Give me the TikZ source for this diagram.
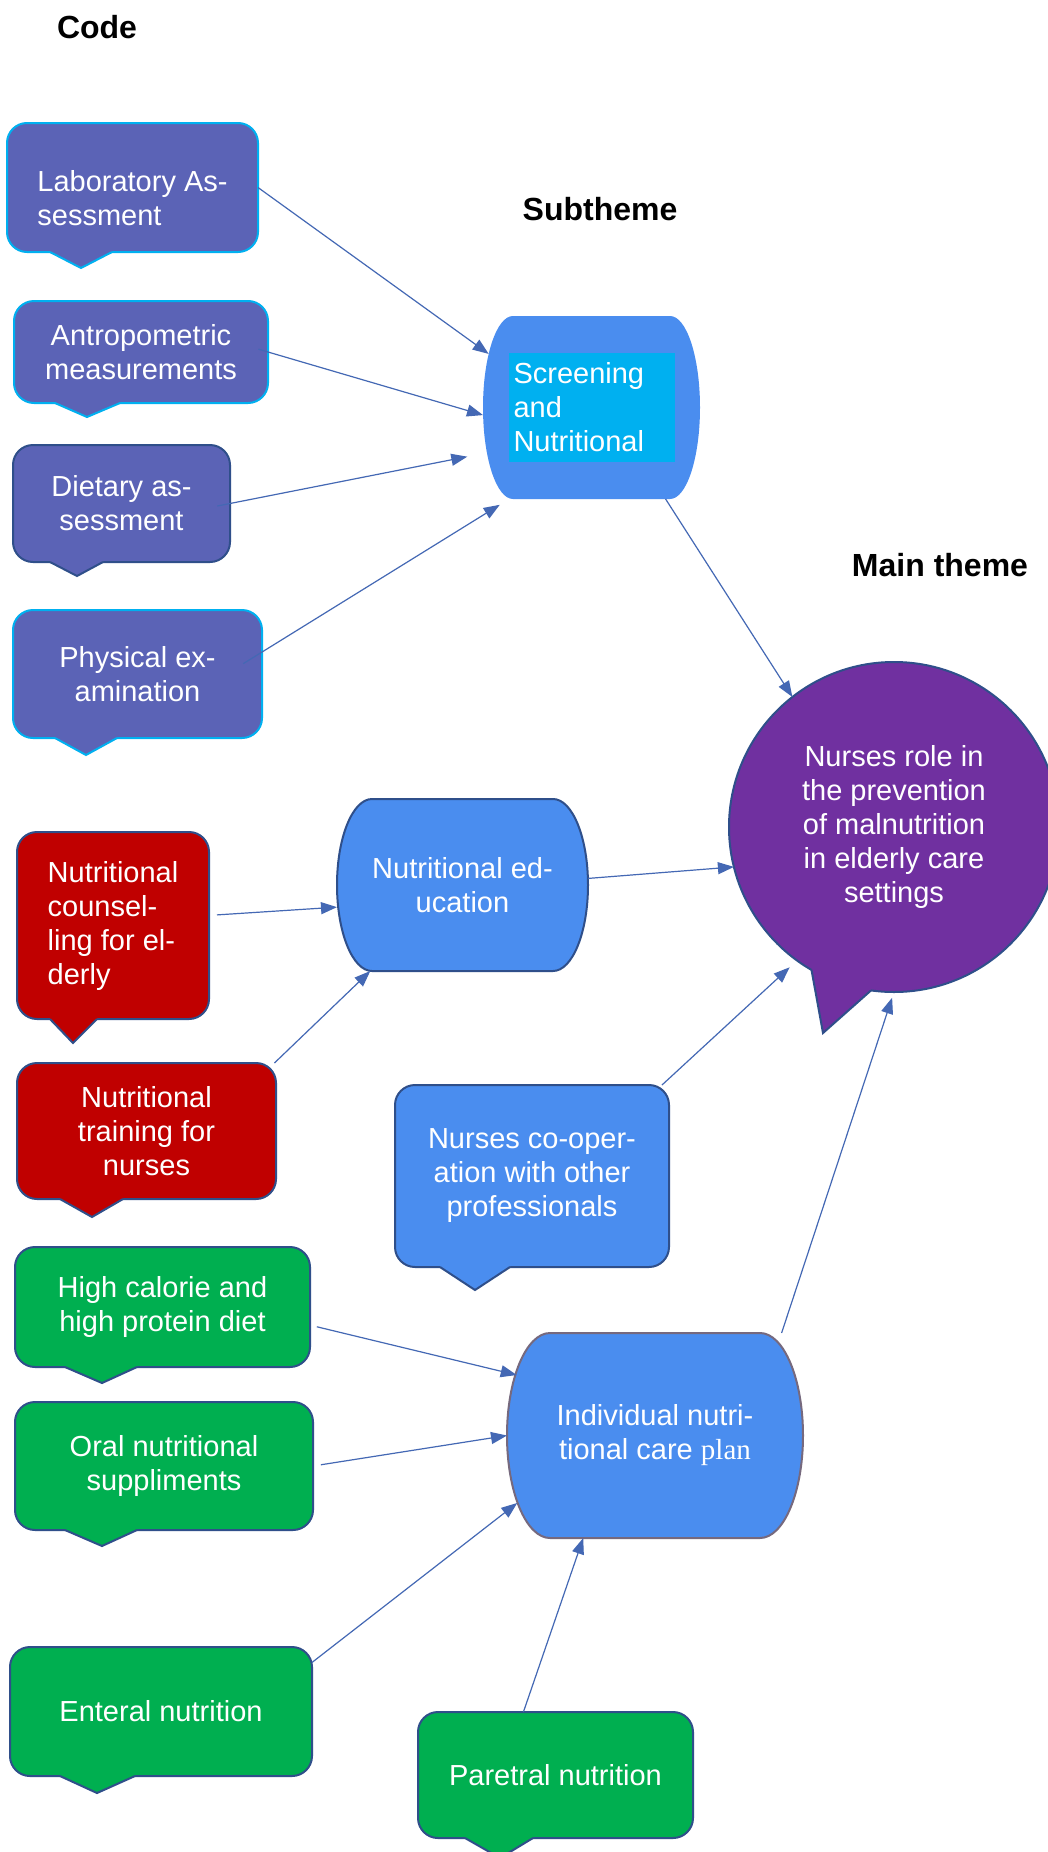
\documentclass[tikz,border=0pt]{standalone}
\usepackage{fontspec}
\setmainfont{Liberation Sans}
\newfontfamily\planfont{Liberation Serif}
\usepackage{tikz}
\usetikzlibrary{arrows.meta, backgrounds}

\definecolor{codeblue}{HTML}{5B63B6}
\definecolor{codered}{HTML}{C00000}
\definecolor{codegreen}{HTML}{00AF50}
\definecolor{themeblue}{HTML}{4A8DEF}
\definecolor{markcyan}{HTML}{00B0F0}
\definecolor{mainpurple}{HTML}{7030A0}
\definecolor{linecyan}{HTML}{00B0F0}
\definecolor{linenavy}{HTML}{2F4F8A}
\definecolor{linegrey}{HTML}{76697E}
\definecolor{arrowblue}{HTML}{4468B4}

% Spitze unter einer Sprechblase: Stil, Knoten, links, rechts, Spitze x, Tiefe
\newcommand{\calltail}[6]{%
  \path[#1, draw=none, sharp corners] ([shift={(#3,-2)}]#2.south west) -- ([shift={(#3,0)}]#2.south west)
    -- ([shift={(#5,#6)}]#2.south west) -- ([shift={(#4,0)}]#2.south west) -- ([shift={(#4,-2)}]#2.south west) -- cycle;
  \path[#1, fill=none, sharp corners] ([shift={(#3,0)}]#2.south west) -- ([shift={(#5,#6)}]#2.south west)
    -- ([shift={(#4,0)}]#2.south west);}

% Form mit gewoelbten Seiten: Stil, Knoten, Woelbung, halbe Hoehe
\newcommand{\roundsides}[4]{%
  \path[#1] ([xshift=#3pt]#2.north west) -- ([xshift=-#3pt]#2.north east)
    arc[start angle=90, end angle=-90, x radius=#3pt, y radius=#4pt]
    -- ([xshift=#3pt]#2.south west)
    arc[start angle=270, end angle=90, x radius=#3pt, y radius=#4pt] -- cycle;}

\begin{document}
\begin{tikzpicture}[
    x=1pt, y=-1pt,
    every node/.style={font=\fontsize{29}{34}\selectfont},
    heading/.style={font=\fontsize{32}{38}\selectfont\bfseries},
    callout/.style={rectangle, rounded corners=20pt, line width=2pt, outer sep=0pt, inner sep=0pt, text=white, align=center},
    codebox/.style={callout, fill=codeblue, draw=linecyan},
    codeboxdark/.style={callout, fill=codeblue, draw=linenavy},
    redbox/.style={callout, fill=codered, draw=linenavy},
    greenbox/.style={callout, fill=codegreen, draw=linenavy},
    bluebox/.style={callout, fill=themeblue, draw=linenavy},
    sidenode/.style={rectangle, outer sep=0pt, inner sep=0pt, text=white, align=center},
    conn/.style={draw=arrowblue, line width=1.2pt, -{Triangle[length=16pt,width=12pt]}}
]
\useasboundingbox (0,0) rectangle (1048,1852);

% Ueberschriften
\node[heading] (code) at (97,27) {Code};
\node[heading] (sub) at (600,209) {Subtheme};
\node[heading] (mth) at (940,565) {Main theme};

% Codes
\node[codebox, minimum width=251pt, minimum height=129pt, align=none] (lab) at (132.5,187.5)
    {\raisebox{-14pt}[\height][\depth]{\begin{tabular}{@{}l@{}}Laboratory As-\\sessment\end{tabular}}};
\node[codebox, minimum width=254pt, minimum height=102pt] (antro) at (141,352) {Antropometric\\measurements};
\node[codeboxdark, minimum width=217pt, minimum height=117pt] (diet) at (121.5,503.5) {Dietary as-\\sessment};
\node[codebox, minimum width=249pt, minimum height=128pt] (phys) at (137.5,674) {Physical ex-\\amination};
\node[redbox, minimum width=192pt, minimum height=187pt, align=left] (couns) at (113,925.5) {Nutritional\\counsel-\\ling for el-\\derly};
\node[redbox, minimum width=259pt, minimum height=136pt] (train) at (146.5,1131) {Nutritional\\training for\\nurses};
\node[bluebox, minimum width=274pt, minimum height=182pt] (coop) at (532,1176) {Nurses co-oper-\\ation with other\\professionals};
\node[greenbox, minimum width=295pt, minimum height=120pt] (high) at (162.5,1307) {High calorie and\\high protein diet};
\node[greenbox, minimum width=298pt, minimum height=128pt] (oral) at (164,1466) {Oral nutritional\\suppliments};
\node[greenbox, minimum width=302pt, minimum height=129pt] (ent) at (161,1711.5) {Enteral nutrition};
\node[greenbox, minimum width=275pt, minimum height=126pt] (par) at (555.5,1775) {Paretral nutrition};

\calltail{codebox}{lab}{43}{105}{74}{16}
\calltail{codebox}{antro}{41}{106}{73}{14}
\calltail{codeboxdark}{diet}{37}{90}{64}{14}
\calltail{codebox}{phys}{42}{104}{73}{17}
\calltail{redbox}{couns}{33}{80}{56}{24}
\calltail{redbox}{train}{43}{106}{75}{18}
\calltail{bluebox}{coop}{45}{115}{80}{23}
\calltail{greenbox}{high}{50}{122}{87}{16}
\calltail{greenbox}{oral}{50}{122}{87}{16}
\calltail{greenbox}{ent}{50}{125}{87}{17}
\calltail{greenbox}{par}{47}{115}{82}{20}

% Unterthemen
\node[sidenode, minimum width=217pt, minimum height=183pt] (scr) at (591.5,407.5)
    {\setlength{\fboxsep}{0pt}\colorbox{markcyan}{\parbox[c][109pt][c]{166pt}{\raggedright\leftskip=5pt Screening\\and\\Nutritional}}};
\node[sidenode, minimum width=251pt, minimum height=172pt] (nedu) at (462.5,885) {Nutritional ed-\\ucation};
\node[sidenode, minimum width=296pt, minimum height=205pt] (indiv) at (655,1435.5) {Individual nutri-\\tional care {\planfont plan}};

\begin{scope}[on background layer]
    \fill[white] (0,0) rectangle (1048,1852);
    \roundsides{fill=themeblue}{scr}{30}{91.5}
    \roundsides{fill=themeblue, draw=linenavy, line width=2pt}{nedu}{35}{86}
    \roundsides{fill=themeblue, draw=linegrey, line width=2pt}{indiv}{43}{102.5}
\end{scope}

% Hauptthema
\node[circle, minimum size=330pt, inner sep=0pt, outer sep=0pt, fill=mainpurple, draw=linenavy, line width=2pt, text=white, align=center] (main) at (894,827)
    {Nurses role in\\the prevention\\of malnutrition\\in elderly care\\settings};
\fill[mainpurple] ([shift={(240:160pt)}]main.center) -- (main.240) -- ([shift={(-71,206)}]main.center) -- (main.262) -- ([shift={(262:160pt)}]main.center) -- cycle;
\draw[linenavy, line width=2pt] (main.240) -- ([shift={(-71,206)}]main.center) -- (main.262);

% Pfeile
\draw[conn, shorten >=-7pt] (lab.east) -- (scr.152);
\draw[conn, shorten <=-10pt] (antro.east) -- (scr.184);
\draw[conn, shorten <=-13pt, shorten >=16pt] (diet.east) -- (scr.203);
\draw[conn, shorten <=-22pt, shorten >=11pt] (phys.10) -- (scr.228);
\draw[conn] (scr.-51) -- (main.128);
\draw[conn] (nedu.3) -- (main.194);
\draw[conn, shorten <=8pt] (couns.6) -- (nedu.190);
\draw[conn] (train.28) -- (nedu.223);
\draw[conn, shorten >=10pt] (coop.35) -- (main.234);
\draw[conn, shorten >=6pt] (indiv.39) -- (main.south);
\draw[conn, shorten <=7pt, shorten >=-10pt] (high.-7) -- (indiv.157);
\draw[conn, shorten <=8pt] (oral.east) -- (indiv.west);
\draw[conn, shorten >=-13pt] (ent.18) -- (indiv.207);
\draw[conn] (par.117) -- (indiv.235);

\end{tikzpicture}
\end{document}
